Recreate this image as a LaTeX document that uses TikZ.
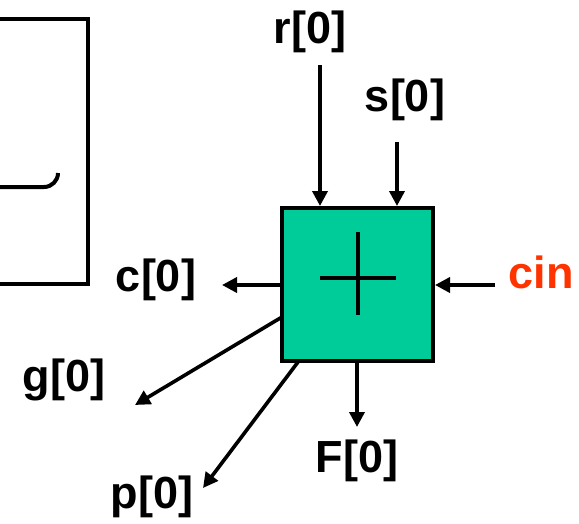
\documentclass[tikz,border=0pt]{standalone}
\usepackage{fontspec}
\setmainfont{Liberation Sans}
\usetikzlibrary{arrows.meta}
\definecolor{boxgreen}{RGB}{0,204,153}
\definecolor{cinred}{RGB}{255,51,0}
\begin{document}
\begin{tikzpicture}[x=1pt,y=-1pt,
  wire/.style={line width=3.6pt,-{Triangle[length=15pt,width=15pt]}},
  thick line/.style={line width=4pt},
  lbl/.style={font=\fontsize{45}{50}\selectfont\bfseries,inner sep=0pt},
  line cap=butt]
\useasboundingbox (0,0) rectangle (579,523);
% left partial box
\draw[thick line,line join=miter] (0,19) -- (88,19) -- (88,284) -- (0,284);
\draw[thick line] (0,187) -- (44,187) arc[start angle=90,end angle=0,radius=14];
% adder
\node[draw,line width=4.5pt,fill=boxgreen,minimum width=151pt,minimum height=153pt,inner sep=0pt,outer sep=0pt,anchor=north west] (add) at (282,208) {};
\draw[thick line] (320,278) -- (396,278);
\draw[thick line] (358,232) -- (358,315);
% inputs
\node[lbl] (r) at (310,32) {r[0]};
\node[lbl] (s) at (405,100) {s[0]};
\node[lbl,text=cinred] (cin) at (541,272) {cin};
\coordinate (rs) at (320,65);
\coordinate (ss) at (397,142);
\coordinate (cs) at (495,285);
\draw[wire] (rs) -- (320,206);
\draw[wire] (ss) -- (397,206);
\draw[wire] (cs) -- (435,285);
% outputs
\node[lbl] (c) at (156,280) {c[0]};
\node[lbl] (g) at (64,380) {g[0]};
\node[lbl] (p) at (152,497) {p[0]};
\node[lbl] (F) at (357,461) {F[0]};
\coordinate (ce) at (222,285);
\coordinate (ge) at (135,405);
\coordinate (pe) at (203,488);
\coordinate (Fe) at (357,427);
\draw[wire] (282,285) -- (ce);
\draw[wire] (282,317) -- (ge);
\draw[wire] (298,362) -- (pe);
\draw[wire] (357,362) -- (Fe);
\end{tikzpicture}
\end{document}
